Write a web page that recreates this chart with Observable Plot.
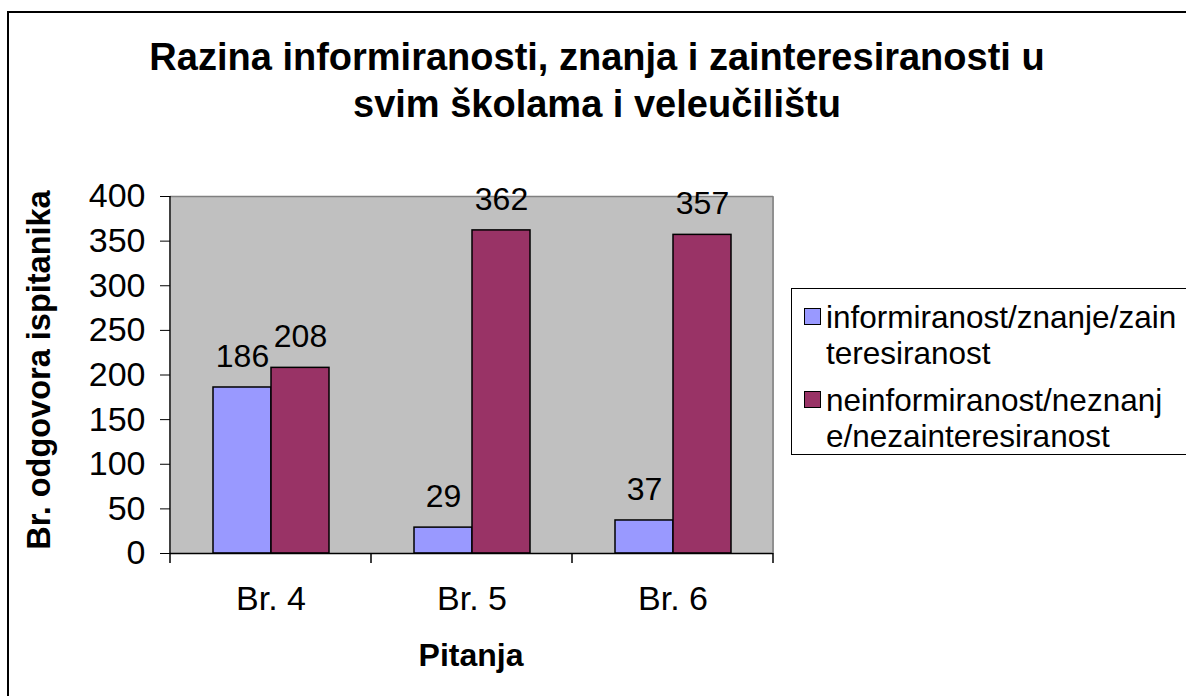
<!DOCTYPE html>
<html>
<head>
<meta charset="utf-8">
<script src="https://cdn.jsdelivr.net/npm/d3@7"></script>
<script src="https://cdn.jsdelivr.net/npm/@observablehq/plot@0.6"></script>
<style>
  html, body { margin: 0; padding: 0; background: #fff; }
  #page { position: relative; width: 1186px; height: 696px; overflow: hidden; background: #fff;
          font-family: "Liberation Sans", Arial, sans-serif; color: #000; }
  #border { position: absolute; left: 7px; top: 11px; width: 1300px; height: 800px;
            border-left: 2px solid #000; border-top: 2px solid #000; }
  #title { position: absolute; left: 0; top: 34px; width: 1194px; text-align: center;
           font-weight: bold; font-size: 38px; line-height: 47px; }
  #ytitle { position: absolute; left: 40px; top: 370px; transform: translate(-50%, -50%) rotate(-90deg);
            white-space: nowrap; font-weight: bold; font-size: 32.5px; line-height: 1.15; }
  #xtitle { position: absolute; left: 471px; top: 637px; transform: translateX(-50%);
            white-space: nowrap; font-weight: bold; font-size: 32px; line-height: 37px; }
  #chart { position: absolute; left: 0; top: 0; }
  #legend { position: absolute; left: 791px; top: 288px; width: 500px; height: 165px;
            border: 1.5px solid #000; background: #fff; }
  .item { position: absolute; left: 34px; font-size: 31.5px; line-height: 36px; white-space: nowrap; }
  .sw { position: absolute; left: -22px; top: 9px; width: 15px; height: 15px; border: 1px solid #000; }
</style>
</head>
<body>
<div id="page">
  <div id="border"></div>
  <div id="chart"></div>
  <div id="title"></div>
  <div id="ytitle"></div>
  <div id="xtitle"></div>
  <div id="legend"></div>
</div>
<script>
// ---- data ----
const titleLines = ["Razina informiranosti, znanja i zainteresiranosti u", "svim školama i veleučilištu"];
const yTitle = "Br. odgovora ispitanika";
const xTitle = "Pitanja";
const categories = ["Br. 4", "Br. 5", "Br. 6"];
const seriesNames = ["informiranost/znanje/zainteresiranost", "neinformiranost/neznanje/nezainteresiranost"];
const legendLines = [["informiranost/znanje/zain", "teresiranost"], ["neinformiranost/neznanj", "e/nezainteresiranost"]];
const informedValues = [186, 29, 37];
const notInformedValues = [208, 362, 357];
const yTicks = [0, 50, 100, 150, 200, 250, 300, 350, 400];
const seriesColors = ["#9999ff", "#993366"];

const data = categories.flatMap((c, i) => [
  {cat: c, series: seriesNames[0], value: informedValues[i]},
  {cat: c, series: seriesNames[1], value: notInformedValues[i]}
]);

// ---- text ----
document.getElementById("title").innerHTML = titleLines.join("<br>");
document.getElementById("ytitle").textContent = yTitle;
document.getElementById("xtitle").textContent = xTitle;

const legend = document.getElementById("legend");
legendLines.forEach((lines, i) => {
  const item = document.createElement("div");
  item.className = "item";
  item.style.top = (i === 0 ? 10 : 93) + "px";
  const sw = document.createElement("div");
  sw.className = "sw";
  sw.style.background = seriesColors[i];
  item.appendChild(sw);
  lines.forEach((t, j) => {
    if (j) item.appendChild(document.createElement("br"));
    item.appendChild(document.createTextNode(t));
  });
  legend.appendChild(item);
});

// ---- chart ----
const chart = Plot.plot({
  width: 800,
  height: 696,
  marginLeft: 170,
  marginRight: 27,
  marginTop: 196,
  marginBottom: 143,
  style: {fontFamily: "'Liberation Sans', Arial, sans-serif", fontSize: "34px", color: "#000", background: "transparent", overflow: "visible"},
  fx: {domain: categories, padding: 0, axis: "bottom", tickSize: 0, tickPadding: 32, label: null},
  x: {domain: seriesNames, paddingInner: 0, paddingOuter: 0.718, axis: null},
  y: {domain: [0, 400], ticks: yTicks, tickSize: 10, tickPadding: 15, label: null},
  color: {domain: seriesNames, range: seriesColors},
  marks: [
    Plot.frame({fill: "#c0c0c0", stroke: "none", shapeRendering: "crispEdges"}),
    Plot.ruleY([400], {stroke: "#808080", strokeWidth: 1.5}),
    Plot.barY(data, {fx: "cat", x: "series", y: "value", fill: "series", stroke: "#000", strokeWidth: 1.5}),
    Plot.ruleY([0], {stroke: "#000", strokeWidth: 1.5}),
    Plot.text(data, {fx: "cat", x: "series", y: "value", text: d => String(d.value), dy: -31, fontSize: 32, fill: "#000"})
  ]
});
document.getElementById("chart").appendChild(chart);

// frame edges and category boundary ticks from the library's scales
const fx = chart.scale("fx"), ys = chart.scale("y");
const xs = categories.map(c => fx.apply(c));
xs.push(fx.apply(categories[categories.length - 1]) + fx.bandwidth);
const y0 = ys.apply(0), yTop = ys.apply(400);
const g = d3.select(chart).append("g");
g.append("line").attr("x1", xs[xs.length - 1]).attr("x2", xs[xs.length - 1]).attr("y1", yTop).attr("y2", y0)
  .attr("stroke", "#808080").attr("stroke-width", 1.5);
g.append("line").attr("x1", xs[0]).attr("x2", xs[0]).attr("y1", yTop).attr("y2", y0)
  .attr("stroke", "#000").attr("stroke-width", 1.5);
g.selectAll("line.b").data(xs).join("line").attr("class", "b")
  .attr("x1", d => d).attr("x2", d => d).attr("y1", y0).attr("y2", y0 + 10)
  .attr("stroke", "#000").attr("stroke-width", 1.5);
</script>
</body>
</html>
